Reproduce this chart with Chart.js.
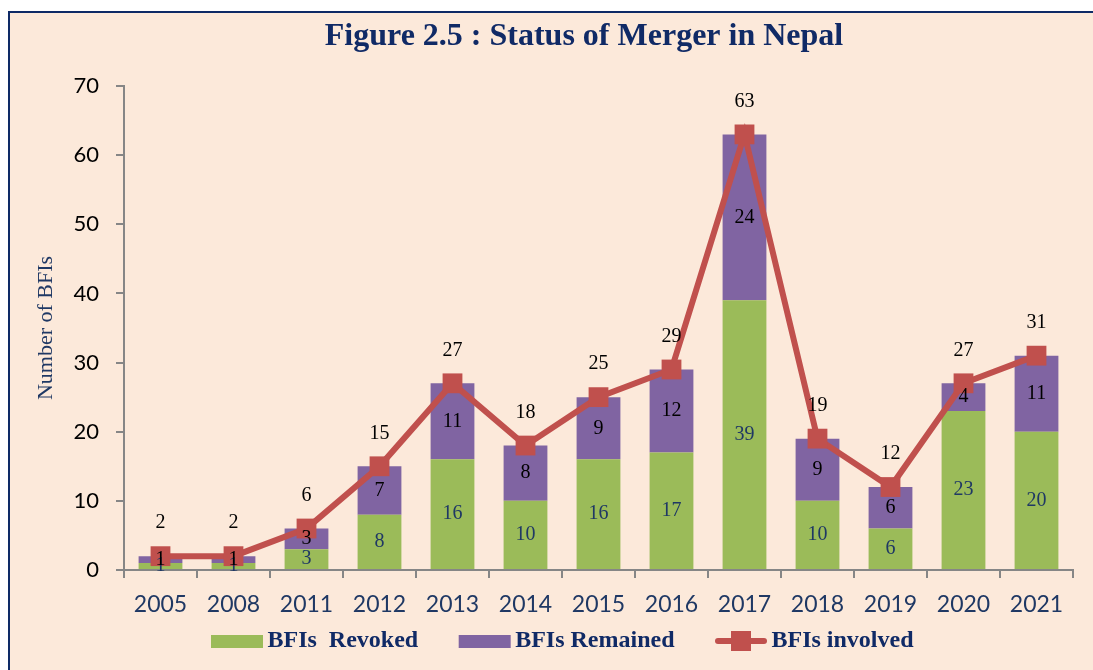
<!DOCTYPE html>
<html>
<head>
<meta charset="utf-8">
<script src="https://cdn.jsdelivr.net/npm/chart.js@4.4.0/dist/chart.umd.min.js"></script>
<style>
  html, body { margin: 0; padding: 0; background: #ffffff; overflow: hidden; }
  #frame {
    position: absolute; left: 8px; top: 11px; width: 1100px; height: 680px;
    background: #FCE9DA; border-left: 2px solid #0E2A66; border-top: 2px solid #0E2A66;
  }
  #wrap { position: absolute; left: 0; top: 0; width: 1093px; height: 670px; }
</style>
</head>
<body>
<div id="frame"></div>
<div id="wrap"><canvas id="myChart" width="1093" height="670"></canvas></div>
<script>
// values
const years = ['2005', '2008', '2011', '2012', '2013', '2014', '2015', '2016', '2017', '2018', '2019', '2020', '2021'];
const revoked = [1, 1, 3, 8, 16, 10, 16, 17, 39, 10, 6, 23, 20];
const remained = [1, 1, 3, 7, 11, 8, 9, 12, 24, 9, 6, 4, 11];
const involved = [2, 2, 6, 15, 27, 18, 25, 29, 63, 19, 12, 27, 31];
const yTicks = [0, 10, 20, 30, 40, 50, 60, 70];

const green = '#9BBB59';
const purple = '#8064A2';
const red = '#C0504D';
const navy = '#102A66';
const serif = '"Liberation Serif", "Times New Roman", serif';

// legend symbols: drawn on the right part of a wider canvas so the
// gap to the text stays small
function legendSymbol(kind, color) {
  const c = document.createElement('canvas');
  c.width = 92; c.height = 22;
  const g = c.getContext('2d');
  g.fillStyle = color;
  if (kind === 'box') {
    g.fillRect(37, 5, 52, 13);
  } else {
    g.strokeStyle = color;
    g.lineWidth = 6;
    g.lineCap = 'round';
    g.beginPath(); g.moveTo(40, 11); g.lineTo(86, 11); g.stroke();
    g.fillRect(53, 1, 20, 20);
  }
  return c;
}

// value labels on the segments and above the line points
const valueLabels = {
  id: 'valueLabels',
  afterDatasetsDraw(chart) {
    const ctx = chart.ctx;
    ctx.save();
    ctx.font = '20px ' + serif;
    ctx.textAlign = 'center';
    ctx.textBaseline = 'middle';
    chart.data.datasets.forEach((ds, i) => {
      const meta = chart.getDatasetMeta(i);
      meta.data.forEach((el, j) => {
        if (ds.type === 'line') {
          ctx.fillStyle = '#000000';
          ctx.fillText(ds.data[j], el.x, el.y - 33);
        } else {
          const mid = (el.y + el.base) / 2;
          ctx.fillStyle = i === 0 ? '#1F3864' : '#000000';
          ctx.fillText(ds.data[j], el.x, mid);
        }
      });
    });
    ctx.restore();
  }
};

const figTitle = {
  id: 'figTitle',
  afterDraw(chart) {
    const ctx = chart.ctx;
    ctx.save();
    ctx.font = 'bold 32px ' + serif;
    ctx.fillStyle = navy;
    ctx.textAlign = 'center';
    ctx.textBaseline = 'middle';
    ctx.fillText('Figure 2.5 : Status of Merger in Nepal', 584, 37);
    ctx.restore();
  }
};

const symbols = [legendSymbol('box', green), legendSymbol('box', purple), legendSymbol('line', red)];

new Chart(document.getElementById('myChart'), {
  data: {
    labels: years,
    datasets: [
      {
        type: 'bar', label: 'BFIs  Revoked', data: revoked,
        backgroundColor: green, order: 1,
        categoryPercentage: 1, barPercentage: 0.6
      },
      {
        type: 'bar', label: 'BFIs Remained', data: remained,
        backgroundColor: purple, order: 1,
        categoryPercentage: 1, barPercentage: 0.6
      },
      {
        type: 'line', label: 'BFIs involved', data: involved,
        borderColor: red, backgroundColor: red, borderWidth: 6,
        pointStyle: 'rect', pointRadius: 14, pointHoverRadius: 14,
        pointBorderWidth: 0, tension: 0, order: 0
      }
    ]
  },
  options: {
    responsive: false,
    animation: false,
    layout: { padding: { left: 25, right: 20, top: 86, bottom: 7 } },
    plugins: {
      title: { display: false },
      tooltip: { enabled: false },
      legend: {
        position: 'bottom',
        labels: {
          usePointStyle: true,
          pointStyleWidth: 71,
          padding: 14,
          color: navy,
          font: { family: serif, size: 24, weight: 'bold' },
          generateLabels(chart) {
            return chart.data.datasets.map((ds, i) => ({
              text: ds.label,
              pointStyle: symbols[i],
              fillStyle: 'transparent',
              strokeStyle: 'transparent',
              lineWidth: 0,
              fontColor: navy,
              datasetIndex: i,
              hidden: false
            }));
          }
        }
      }
    },
    scales: {
      x: {
        stacked: true,
        offset: true,
        grid: {
          display: true, drawOnChartArea: false, drawTicks: true,
          tickLength: 8, color: '#868686', lineWidth: 2, offset: true
        },
        border: { display: true, color: '#868686', width: 2 },
        ticks: {
          color: '#1F3864', padding: 13,
          font: { family: 'Lato, "Open Sans", sans-serif', size: 23 }
        },
        afterFit(scale) { scale.height = 45; }
      },
      y: {
        stacked: true,
        min: 0, max: 70,
        afterBuildTicks(scale) { scale.ticks = yTicks.map(v => ({ value: v })); },
        grid: {
          display: true, drawOnChartArea: false, drawTicks: true,
          tickLength: 8, color: '#868686', lineWidth: 2
        },
        border: { display: true, color: '#868686', width: 2 },
        ticks: {
          color: '#000000', padding: 17,
          font: { family: 'Lato, "Open Sans", sans-serif', size: 22 }
        },
        title: {
          display: true, text: 'Number of BFIs', color: '#1F3864',
          padding: { top: 8, bottom: 0 },
          font: { family: serif, size: 22 }
        },
        afterFit(scale) { scale.width = 99; }
      }
    }
  },
  plugins: [valueLabels, figTitle]
});
</script>
</body>
</html>
